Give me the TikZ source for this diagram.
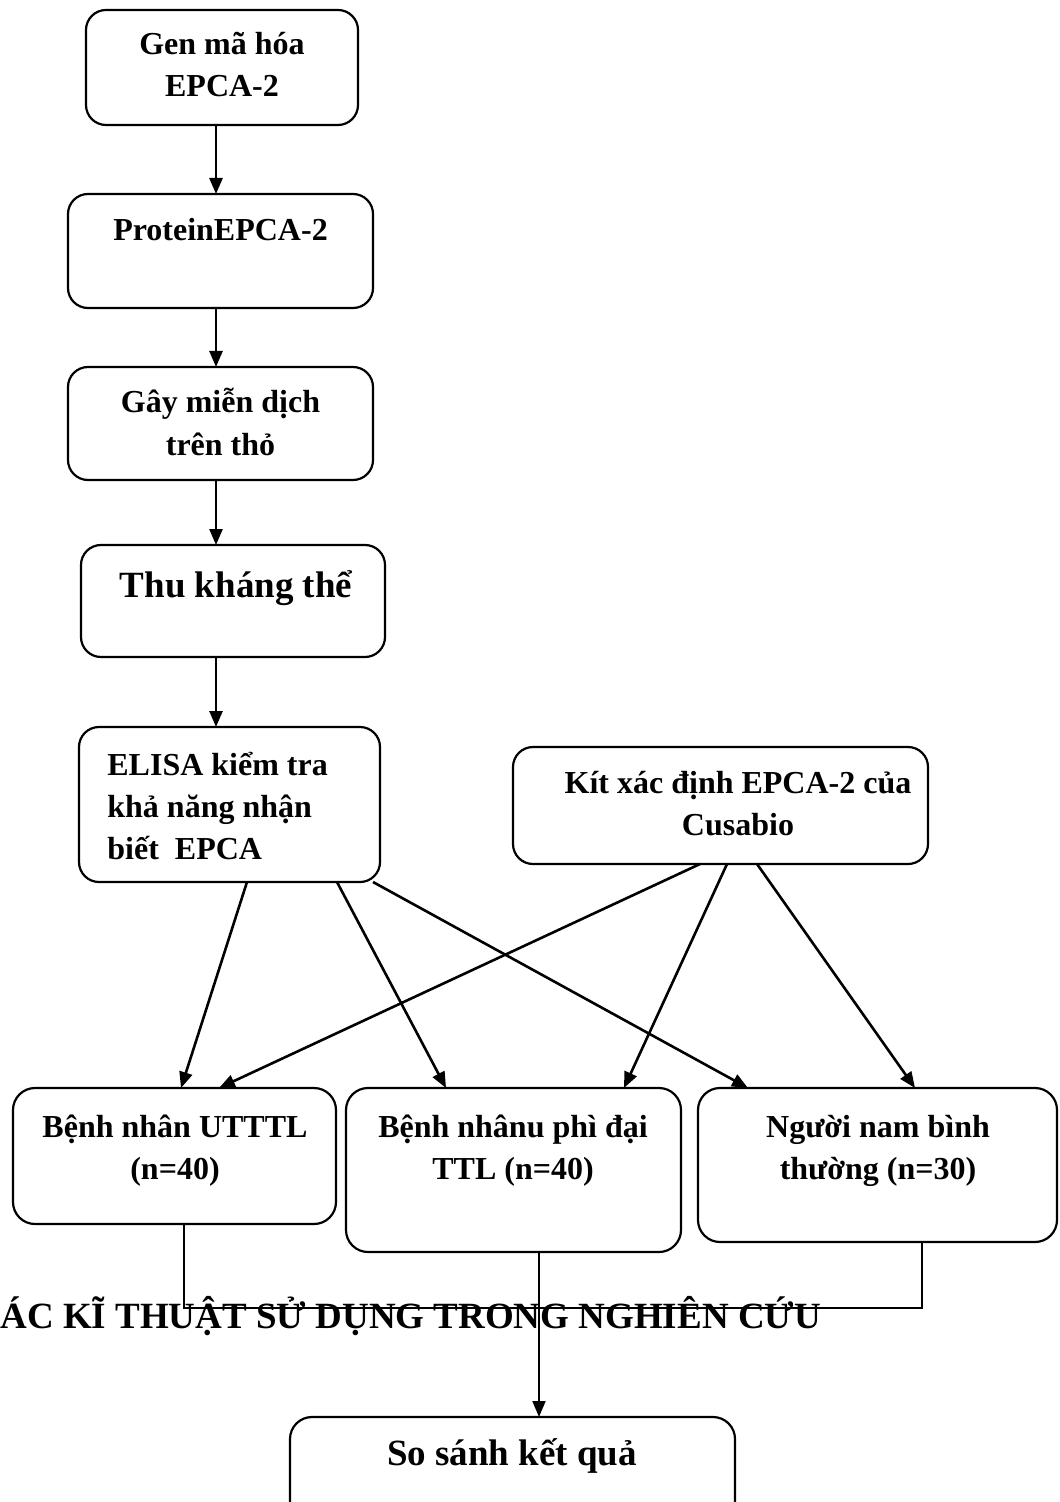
\documentclass[tikz,border=0pt]{standalone}
\usepackage{fontspec}
\setmainfont{Liberation Serif}
\usetikzlibrary{arrows.meta}
\begin{document}
\begin{tikzpicture}[x=0.5pt,y=-0.5pt,
  stepbox/.style={draw, line width=1.1pt, rounded corners=10pt, inner sep=0pt, outer sep=0pt},
  lbl/.style={font=\fontsize{16}{21}\selectfont\bfseries, inner sep=0pt, anchor=base, align=center},
  big/.style={font=\fontsize{18.5}{22}\selectfont\bfseries, inner sep=0pt, anchor=base},
  arr/.style={line width=1.3pt, -{Triangle[length=8pt,width=6.5pt]}},
  joinline/.style={line width=0.8pt}]
\useasboundingbox (0,0) rectangle (1059,1502);

% main chain of boxes (multi-line labels sit on the baseline of their last line)
\node[stepbox, minimum width=136pt, minimum height=57.5pt] (b1) at (222,67.5) {};
\node[lbl] (t1) at (222,97) {Gen mã hóa\\EPCA-2};
\node[stepbox, minimum width=152.5pt, minimum height=57pt] (b2) at (220.5,251) {};
\node[lbl] (t2) at (220.5,241) {ProteinEPCA-2};
\node[stepbox, minimum width=152.5pt, minimum height=56.5pt] (b3) at (220.5,423.5) {};
\node[lbl] (t3) at (220.5,455) {Gây miễn dịch\\trên thỏ};
\node[stepbox, minimum width=152pt, minimum height=56pt] (b4) at (233,601) {};
\node[big] (t4) at (236,597) {Thu kháng thể};
\node[stepbox, minimum width=150.5pt, minimum height=77.5pt] (b5) at (229.5,804.5) {};
\node[lbl, anchor=base west, align=left] (t5) at (107,859) {ELISA kiểm tra\\khả năng nhận\\biết\ \ EPCA};
\node[stepbox, minimum width=207.5pt, minimum height=58.5pt] (b6) at (720.5,805.5) {};
\node[lbl] (t6) at (738,835) {Kít xác định EPCA-2 của\\Cusabio};

% groups
\node[stepbox, rounded corners=11pt, minimum width=161.5pt, minimum height=68pt] (bA) at (174.5,1156) {};
\node[lbl] (tA) at (175,1179) {Bệnh nhân UTTTL\\(n=40)};
\node[stepbox, rounded corners=11pt, minimum width=167.5pt, minimum height=82pt] (bB) at (513.5,1170) {};
\node[lbl] (tB) at (513,1179) {Bệnh nhânu phì đại\\TTL (n=40)};
\node[stepbox, rounded corners=11pt, minimum width=179.5pt, minimum height=77pt] (bC) at (877.5,1165) {};
\node[lbl] (tC) at (878,1179) {Người nam bình\\thường (n=30)};

% result
\node[stepbox, rounded corners=11pt, minimum width=222.5pt, minimum height=59pt] (bS) at (512.5,1476) {};
\node[big] (tS) at (512,1465) {So sánh kết quả};

% heading
\node[big, anchor=base west] (title) at (0,1328) {ÁC KĨ THUẬT SỬ DỤNG TRONG NGHIÊN CỨU};

% vertical chain
\coordinate (col) at (216,0);
\draw[arr] (b1.south -| col) -- (b2.north -| col);
\draw[arr] (b2.south -| col) -- (b3.north -| col);
\draw[arr] (b3.south -| col) -- (b4.north -| col);
\draw[arr] (b4.south -| col) -- (b5.north -| col);

% crossing arrows
\draw[arr] ([xshift=8.75pt]b5.south) -- ([xshift=3.25pt]bA.north);
\draw[arr] ([xshift=53.75pt]b5.south) -- ([xshift=-33.75pt]bB.north);
\draw[arr] ([xshift=71.75pt]b5.south) -- ([xshift=-64.75pt]bC.north);
\draw[arr] ([xshift=-10.25pt]b6.south) -- ([xshift=22.25pt]bA.north);
\draw[arr] ([xshift=3.25pt]b6.south) -- ([xshift=55.25pt]bB.north);
\draw[arr] ([xshift=18.25pt]b6.south) -- ([xshift=18.75pt]bC.north);

% merge into the result
\coordinate (mergeA) at ([xshift=4.75pt]bA.south |- 0,1308);
\coordinate (mergeC) at ([xshift=22.25pt]bC.south |- 0,1308);
\draw[joinline] ([xshift=4.75pt]bA.south) -- (mergeA) -- (mergeC) -- ([xshift=22.25pt]bC.south);
\draw[arr, line width=1pt] ([xshift=12.75pt]bB.south) -- ([xshift=12.75pt]bB.south |- bS.north);
\end{tikzpicture}
\end{document}
